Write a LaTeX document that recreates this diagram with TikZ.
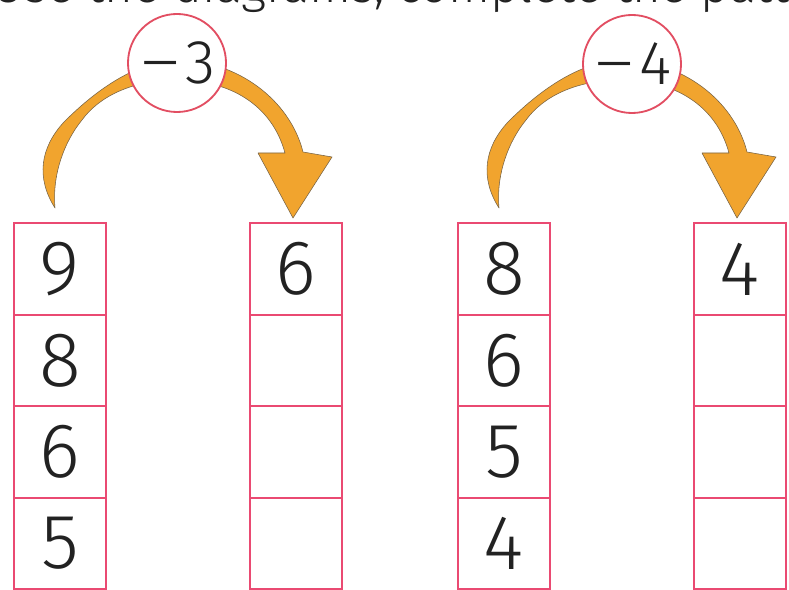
\documentclass[tikz,border=0pt]{standalone}
\usepackage{fontspec}
\setmainfont{Fira Sans}[UprightFont={* Light}]
\usetikzlibrary{positioning}
\definecolor{boxpink}{RGB}{234,74,114}
\definecolor{ringred}{RGB}{226,78,98}
\definecolor{arrowfill}{RGB}{241,164,46}
\definecolor{arrowedge}{RGB}{120,100,70}
\definecolor{digitgray}{RGB}{34,34,34}
\newcommand{\digitfont}{\fontsize{55}{55}\selectfont}
\newcommand{\hopfont}{\fontsize{44}{44}\selectfont}
\newcommand{\longminus}{\scalebox{1.45}[1]{−}\kern0.04em}
% bent arrow from the first column over the circle down to the second one
\newcommand{\jumparrow}[1]{%
  \filldraw[jump, shift={(#1,0)}] (55,208) .. controls (36,178) and (40,148) .. (64,122)
    .. controls (88,98) and (130,62) .. (177,60)
    .. controls (237,60) and (290,100) .. (303,152)
    -- (332,157) -- (293,218) -- (258,153) -- (285,153)
    .. controls (272,105) and (230,80) .. (177,80)
    .. controls (130,80) and (98,98) .. (82,120)
    .. controls (64,142) and (52,175) .. (55,208) -- cycle;}
\begin{document}
\begin{tikzpicture}[
    x=0.025cm, y=-0.025cm,
    cell/.style={draw=boxpink, line width=1.6pt, minimum size=2.2875cm, outer sep=0pt, inner sep=0pt, text=digitgray, font=\digitfont},
    hop/.style={circle, draw=ringred, line width=1.3pt, fill=white, minimum size=2.45cm, inner sep=0pt, text=digitgray, font=\hopfont},
    jump/.style={fill=arrowfill, draw=arrowedge, line width=0.4pt, line join=round}
]
\useasboundingbox (0,0) rectangle (789,590);
\clip (0,0) rectangle (789,590);
\node[anchor=base west, text=digitgray, font=\fontsize{35}{35}\selectfont] (title) at (-12,3) {Use the diagrams, complete the pattern.};

\jumparrow{0}
\jumparrow{444}

\node[hop] (minus3) at (177,63) {\longminus 3};
\node[hop] (minus4) at (632,64) {\longminus 4};

% first pair of columns
\node[cell] (a1) at (60,269) {9};
\node[cell, below=0pt of a1] (a2) {8};
\node[cell, below=0pt of a2] (a3) {6};
\node[cell, below=0pt of a3] (a4) {5};
\node[cell] (b1) at (296,269) {6};
\node[cell, below=0pt of b1] (b2) {};
\node[cell, below=0pt of b2] (b3) {};
\node[cell, below=0pt of b3] (b4) {};

% second pair of columns
\node[cell] (c1) at (504,269) {8};
\node[cell, below=0pt of c1] (c2) {6};
\node[cell, below=0pt of c2] (c3) {5};
\node[cell, below=0pt of c3] (c4) {4};
\node[cell] (d1) at (740,269) {4};
\node[cell, below=0pt of d1] (d2) {};
\node[cell, below=0pt of d2] (d3) {};
\node[cell, below=0pt of d3] (d4) {};
\end{tikzpicture}
\end{document}
